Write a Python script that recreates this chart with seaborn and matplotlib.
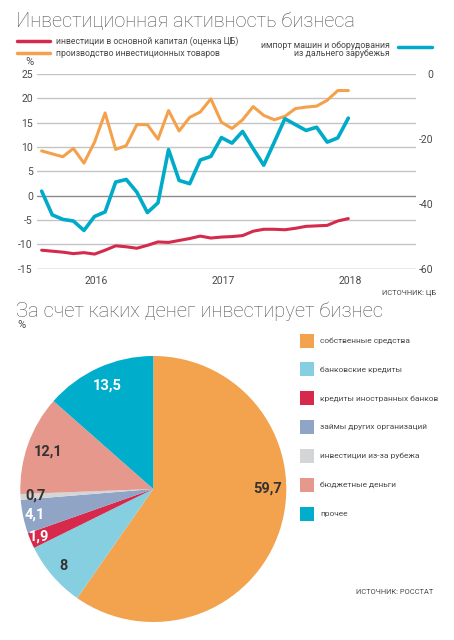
import numpy as np
import pandas as pd
import matplotlib
matplotlib.use("Agg")
import matplotlib.pyplot as plt
from matplotlib.lines import Line2D
from matplotlib.patches import Rectangle
import seaborn as sns

# ---------------- data ----------------
months = ["2015-08", "2015-09", "2015-10", "2015-11", "2015-12",
          "2016-01", "2016-02", "2016-03", "2016-04", "2016-05", "2016-06",
          "2016-07", "2016-08", "2016-09", "2016-10", "2016-11", "2016-12",
          "2017-01", "2017-02", "2017-03", "2017-04", "2017-05", "2017-06",
          "2017-07", "2017-08", "2017-09", "2017-10", "2017-11", "2017-12",
          "2018-01"]
invest_capital = [-11.2, -11.4, -11.6, -11.9, -11.7, -12.0, -11.2, -10.3, -10.5,
                  -10.8, -10.2, -9.5, -9.6, -9.2, -8.8, -8.3, -8.7, -8.5, -8.4,
                  -8.2, -7.3, -6.9, -6.9, -7.0, -6.7, -6.3, -6.2, -6.1, -5.2, -4.7]
invest_goods = [9.2, 8.6, 8.0, 9.7, 6.7, 11.0, 17.0, 9.5, 10.3, 14.6, 14.6, 11.6,
                17.5, 13.3, 16.1, 17.2, 19.9, 15.1, 13.8, 15.6, 18.3, 16.5, 15.6,
                16.3, 17.9, 18.2, 18.4, 19.6, 21.6, 21.6]
import_machines = [-36.1, -43.4, -44.8, -45.3, -48.2, -43.9, -42.5, -33.3, -32.5,
                   -36.4, -42.7, -39.7, -23.3, -32.8, -33.8, -26.5, -25.4, -19.6,
                   -21.3, -17.7, -23.0, -28.1, -21.0, -13.8, -15.6, -17.4, -16.4,
                   -21.0, -19.7, -13.6]
left_ticks = [25, 20, 15, 10, 5, 0, -5, -10, -15]
right_ticks = [0, -20, -40, -60]
year_labels = ["2016", "2017", "2018"]

pie_labels = ["собственные средства", "банковские кредиты", "кредиты иностранных банков",
              "займы других организаций", "инвестиции из-за рубежа", "бюджетные деньги", "прочее"]
pie_values = [59.7, 8, 1.9, 4.1, 0.7, 12.1, 13.5]
pie_texts = ["59,7", "8", "1,9", "4,1", "0,7", "12,1", "13,5"]

# ---------------- style ----------------
sns.set_theme(style="white")
from matplotlib import font_manager
names = {f.name for f in font_manager.fontManager.ttflist}
base = "Roboto" if "Roboto" in names else "DejaVu Sans"
plt.rcParams["font.family"] = [base, "DejaVu Sans"]

W, H = 454, 640
fig = plt.figure(figsize=(W / 100, H / 100), dpi=100)
fig.patch.set_facecolor("white")


def fx(x):
    return x / W


def fy(y):
    return 1 - y / H


TXT = "#4a4a4a"
RED = "#d42a4c"
ORANGE = "#f5a14b"
BLUE = "#00aac9"
GRID = "#c4c4c4"

# ---------------- line chart ----------------
ax_l, ax_r, ax_t, ax_b = 37, 416, 74, 268.7
ax = fig.add_axes([fx(ax_l), fy(ax_b), (ax_r - ax_l) / W, (ax_b - ax_t) / H])
df = pd.DataFrame({"month": months, "idx": np.arange(len(months)),
                   "cap": invest_capital, "goods": invest_goods, "imp": import_machines})

for t in left_ticks:
    c = "#8a8a8a" if t in (0, -15) else GRID
    ax.axhline(t, color=c, lw=1.0, zorder=0)

sns.lineplot(data=df, x="idx", y="cap", ax=ax, color=RED, lw=2.2, zorder=3)
sns.lineplot(data=df, x="idx", y="goods", ax=ax, color=ORANGE, lw=2.2, zorder=3)
ax.set_xlim(-0.44, 35.4)
ax.set_ylim(-15, 25)
ax.set_yticks(left_ticks)
ax.set_yticklabels([str(t) for t in left_ticks])
year_pos = [i for i, m in enumerate(months) if m.endswith("-01")]
ax.set_xticks([p + 0.15 for p in year_pos])
ax.set_xticklabels(year_labels)
ax.tick_params(axis="both", length=0, labelsize=7.5, labelcolor=TXT)
ax.tick_params(axis="y", pad=3)
ax.tick_params(axis="x", pad=5)
ax.set_xlabel("")
ax.set_ylabel("")
for s in ax.spines.values():
    s.set_visible(False)
ax.grid(False)

ax2 = ax.twinx()
sns.lineplot(data=df, x="idx", y="imp", ax=ax2, color=BLUE, lw=2.6, zorder=4)
ax2.set_ylim(-60, 0)
ax2.set_xlim(-0.44, 35.4)
ax2.set_yticks(right_ticks)
ax2.set_yticklabels([str(t) for t in right_ticks], ha="right")
ax2.tick_params(axis="y", length=0, labelsize=7.5, labelcolor=TXT, pad=12.2)
ax2.set_ylabel("")
ax2.grid(False)
for s in ax2.spines.values():
    s.set_visible(False)

# titles & legend of line chart
fig.text(fx(16), fy(21), "Инвестиционная активность бизнеса", fontsize=14.4,
         fontweight="light", color="#555555", va="center", ha="left")
fig.add_artist(Line2D([fx(17), fx(50)], [fy(41), fy(41)], color=RED, lw=2.5))
fig.add_artist(Line2D([fx(17), fx(50)], [fy(53.3), fy(53.3)], color=ORANGE, lw=2.5))
fig.text(fx(56), fy(41), "инвестиции в основной капитал (оценка ЦБ)", fontsize=6.2,
         color=TXT, va="center", ha="left")
fig.text(fx(56), fy(53.3), "производство инвестиционных товаров", fontsize=6.2,
         color=TXT, va="center", ha="left")
fig.text(fx(390), fy(45), "импорт машин и оборудования", fontsize=6.3,
         color=TXT, va="center", ha="right")
fig.text(fx(390), fy(54), "из дальнего зарубежья", fontsize=6.3,
         color=TXT, va="center", ha="right")
fig.add_artist(Line2D([fx(398), fx(432)], [fy(47.3), fy(47.3)], color=BLUE, lw=2.5))
fig.text(fx(29), fy(62), "%", fontsize=8, color=TXT, va="center", ha="center")
fig.text(fx(436), fy(293), "ИСТОЧНИК: ЦБ", fontsize=5.4, color=TXT, va="center", ha="right")

# ---------------- pie chart ----------------
fig.text(fx(16), fy(311.5), "За счет каких денег инвестирует бизнес", fontsize=14.5,
         fontweight="light", color="#555555", va="center", ha="left")
fig.text(fx(21), fy(325), "%", fontsize=8, color=TXT, va="center", ha="center")

pie_colors = ["#f3a24e", "#86cfe1", "#d6294b", "#90a4c6", "#d4d5d7", "#e6988d", "#00adcb"]
cx, cy, R = 153.3, 489, 133
axp = fig.add_axes([fx(cx - R), fy(cy + R), 2 * R / W, 2 * R / H])
wedges, _ = axp.pie(pie_values, colors=pie_colors, startangle=90, counterclock=False,
                    wedgeprops=dict(linewidth=0))
axp.set_xlim(-1, 1)
axp.set_ylim(-1, 1)
axp.set_aspect("equal")
axp.axis("off")

label_r = [0.86, 0.89, 0.93, 0.91, 0.89, 0.84, 0.85]
label_shift = [17.5, 0, 0, 0, 0, 0, 0]
label_col = ["#333333", "#333333", "white", "white", "#333333", "#333333", "white"]
for w, txt, r, sh, c in zip(wedges, pie_texts, label_r, label_shift, label_col):
    ang = np.deg2rad((w.theta1 + w.theta2) / 2 + sh)
    axp.text(r * np.cos(ang), r * np.sin(ang), txt, ha="center", va="center",
             fontsize=10.5, fontweight="bold", color=c)

# pie legend
for i, (lab, col) in enumerate(zip(pie_labels, pie_colors)):
    yc = 340.5 + 28.9 * i
    fig.add_artist(Rectangle((fx(300), fy(yc + 7)), 14 / W, 14 / H,
                             facecolor=col, edgecolor="none", transform=fig.transFigure))
    fig.text(fx(320), fy(yc), lab, fontsize=6.0, color=TXT, va="center", ha="left")

fig.text(fx(433), fy(593), "ИСТОЧНИК: РОССТАТ", fontsize=5.4, color=TXT, va="center", ha="right")

fig.savefig("out.png", dpi=100, facecolor="white")
